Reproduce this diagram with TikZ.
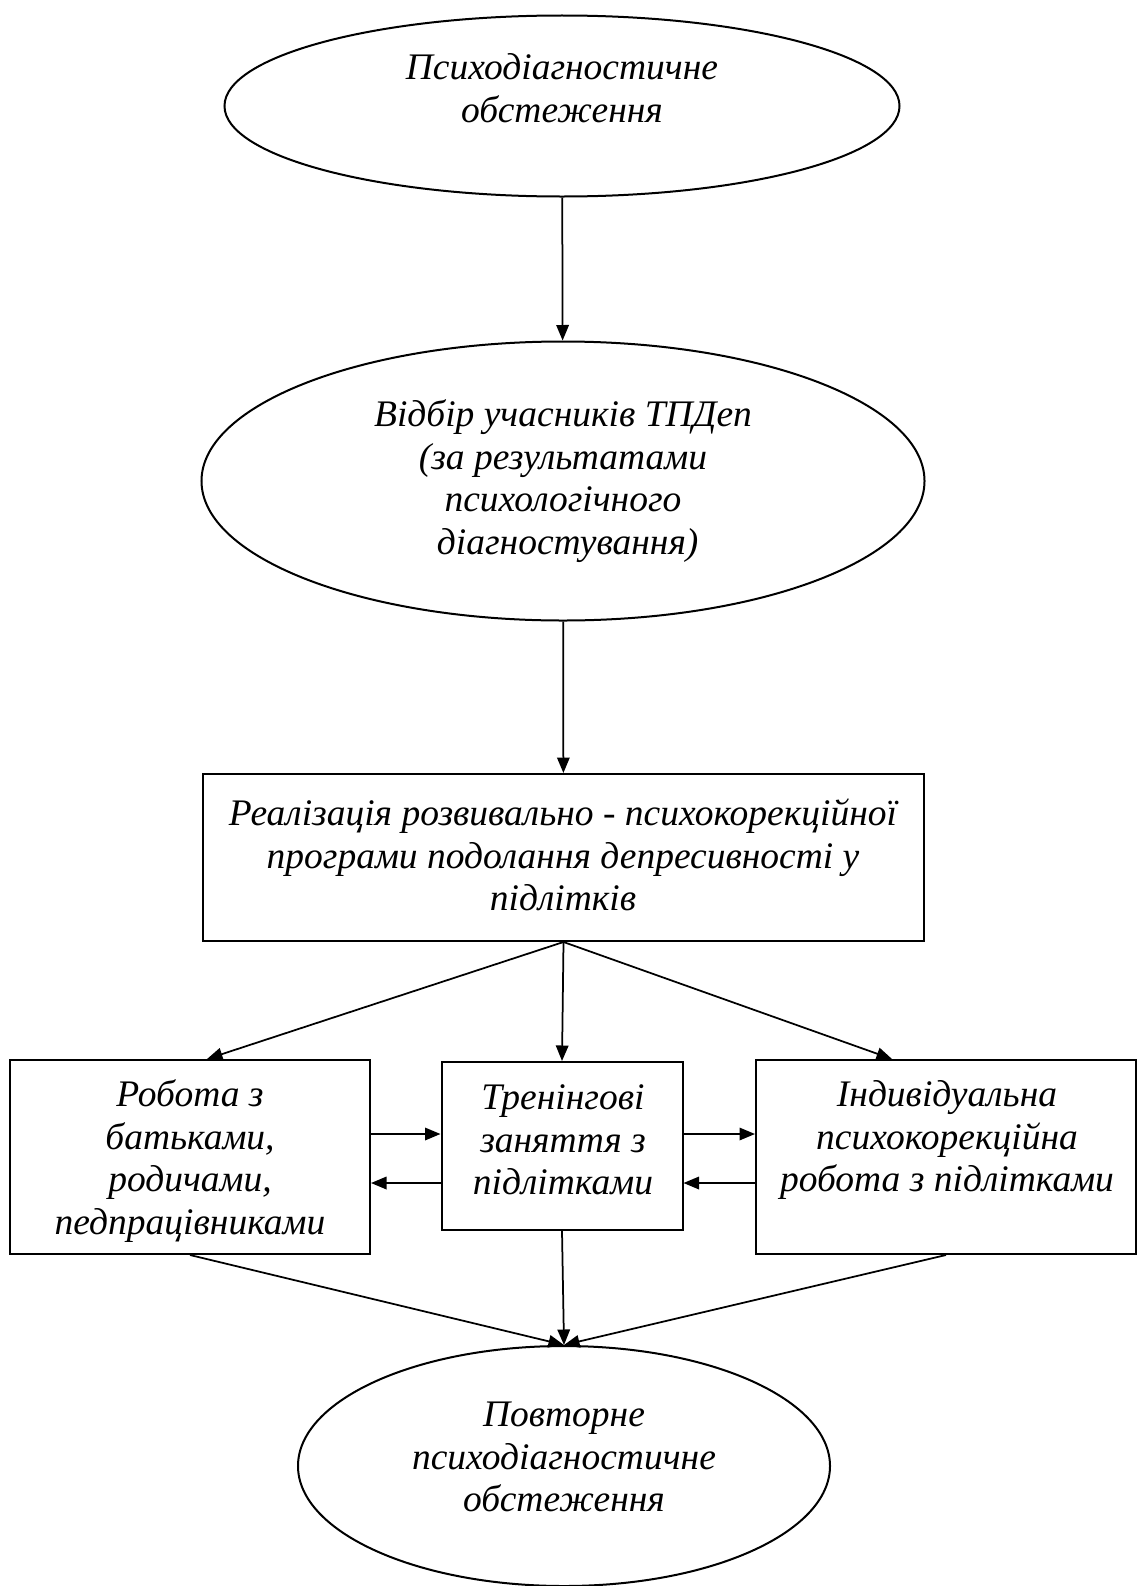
\documentclass[tikz,border=0pt]{standalone}
\usepackage{fontspec}
\setmainfont{Liberation Serif}
\usetikzlibrary{arrows.meta,positioning,shapes.geometric}
\tikzset{>={Triangle[length=6.2pt,width=5pt]},
 every node/.style={font=\fontsize{15}{17}\selectfont\itshape},
 oval/.style={ellipse,draw,line width=0.8pt,inner sep=0pt},
 block/.style={rectangle,draw,line width=0.8pt,inner sep=0pt},
 txt/.style={align=center,inner sep=0pt},
 link/.style={->,line width=0.7pt}}
\begin{document}
\begin{tikzpicture}[x=0.4pt,y=-0.4pt]
\useasboundingbox (0,0) rectangle (1138,1586);
% shapes
\node[oval,minimum width=270pt,minimum height=72.4pt] (diag) at (562,106) {};
\node[oval,minimum width=289.2pt,minimum height=111.6pt] (select) at (563,481) {};
\node[block,minimum width=288.4pt,minimum height=66.8pt] (prog) at (563.5,857.5) {};
\node[block,minimum width=144pt,minimum height=77.6pt] (parents) at (190,1157) {};
\node[block,minimum width=96.4pt,minimum height=67.2pt] (train) at (562,1146) {};
\node[block,minimum width=152pt,minimum height=77.6pt] (indiv) at (946,1157) {};
\node[oval,minimum width=212.8pt,minimum height=96pt] (rediag) at (564,1466) {};
% texts
\node[txt] (diagT) at (562,88) {Психодіагностичне\\обстеження};
\node[txt] (selectT) at (563,481) {Відбір учасників ТПДеп\\(за результатами\\психологічного\\\ діагностування)};
\node[txt] (progT) at (563,855) {Реалізація розвивально - психокорекційної\\програми подолання депресивності у\\підлітків};
\node[txt] (parentsT) at (190,1161) {Робота з\\батьками,\\родичами,\\педпрацівниками};
\node[txt] (trainT) at (563,1140) {Тренінгові\\заняття з\\підлітками};
\node[txt] (indivT) at (947,1140) {Індивідуальна\\психокорекційна\\робота з підлітками};
\node[txt] (rediagT) at (564,1457) {Повторне\\психодіагностичне\\обстеження};
% links
\draw[link] (diag) -- (select);
\draw[link] (select) -- (prog);
\draw[link] (prog.south) -- ([xshift=6.8pt]parents.north);
\draw[link] (prog.south) -- (train.north);
\draw[link] (prog.south) -- ([xshift=-21.6pt]indiv.north);
\draw[link] ([yshift=4.8pt]parents.east|-train.center) -- ([yshift=4.8pt]train.west);
\draw[link] ([yshift=-14.8pt]train.west) -- ([yshift=-14.8pt]parents.east|-train.center);
\draw[link] ([yshift=4.8pt]train.east) -- ([yshift=4.8pt]indiv.west|-train.center);
\draw[link] ([yshift=-14.8pt]indiv.west|-train.center) -- ([yshift=-14.8pt]train.east);
\draw[link] (parents.south) -- (rediag.north);
\draw[link] (train.south) -- (rediag.north);
\draw[link] (indiv.south) -- (rediag.north);
\end{tikzpicture}
\end{document}
